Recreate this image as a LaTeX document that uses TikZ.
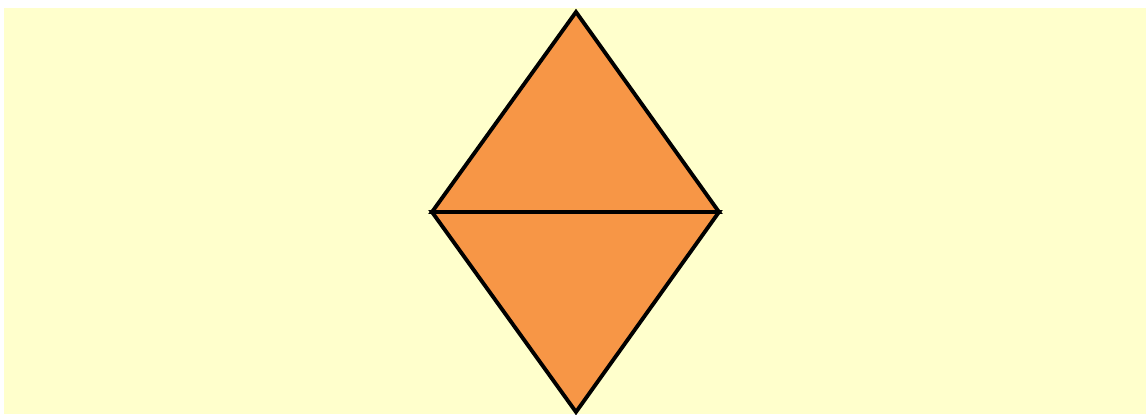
\documentclass[tikz,border=0pt]{standalone}
\usepackage{tikz}
\definecolor{paleyellow}{HTML}{FFFFCC}
\definecolor{tileorange}{HTML}{F79646}
\tikzset{
    backdrop/.style={fill=paleyellow, draw=none},
    tile/.style={fill=tileorange, draw=black, line width=2.2pt, line join=miter}
}

\begin{document}
\begin{tikzpicture}[x=0.02cm, y=0.02cm]
    \useasboundingbox (0,0) rectangle (1146,414);
    \fill [backdrop] (4,0) rectangle (1146,406);

    \coordinate (apex) at (576,402);
    \coordinate (west) at (432,202);
    \coordinate (east) at (719,202);
    \coordinate (foot) at (576,2);

    \draw [tile] (apex) -- (west) -- (east) -- cycle;
    \draw [tile] (west) -- (foot) -- (east) -- cycle;
\end{tikzpicture}
\end{document}
